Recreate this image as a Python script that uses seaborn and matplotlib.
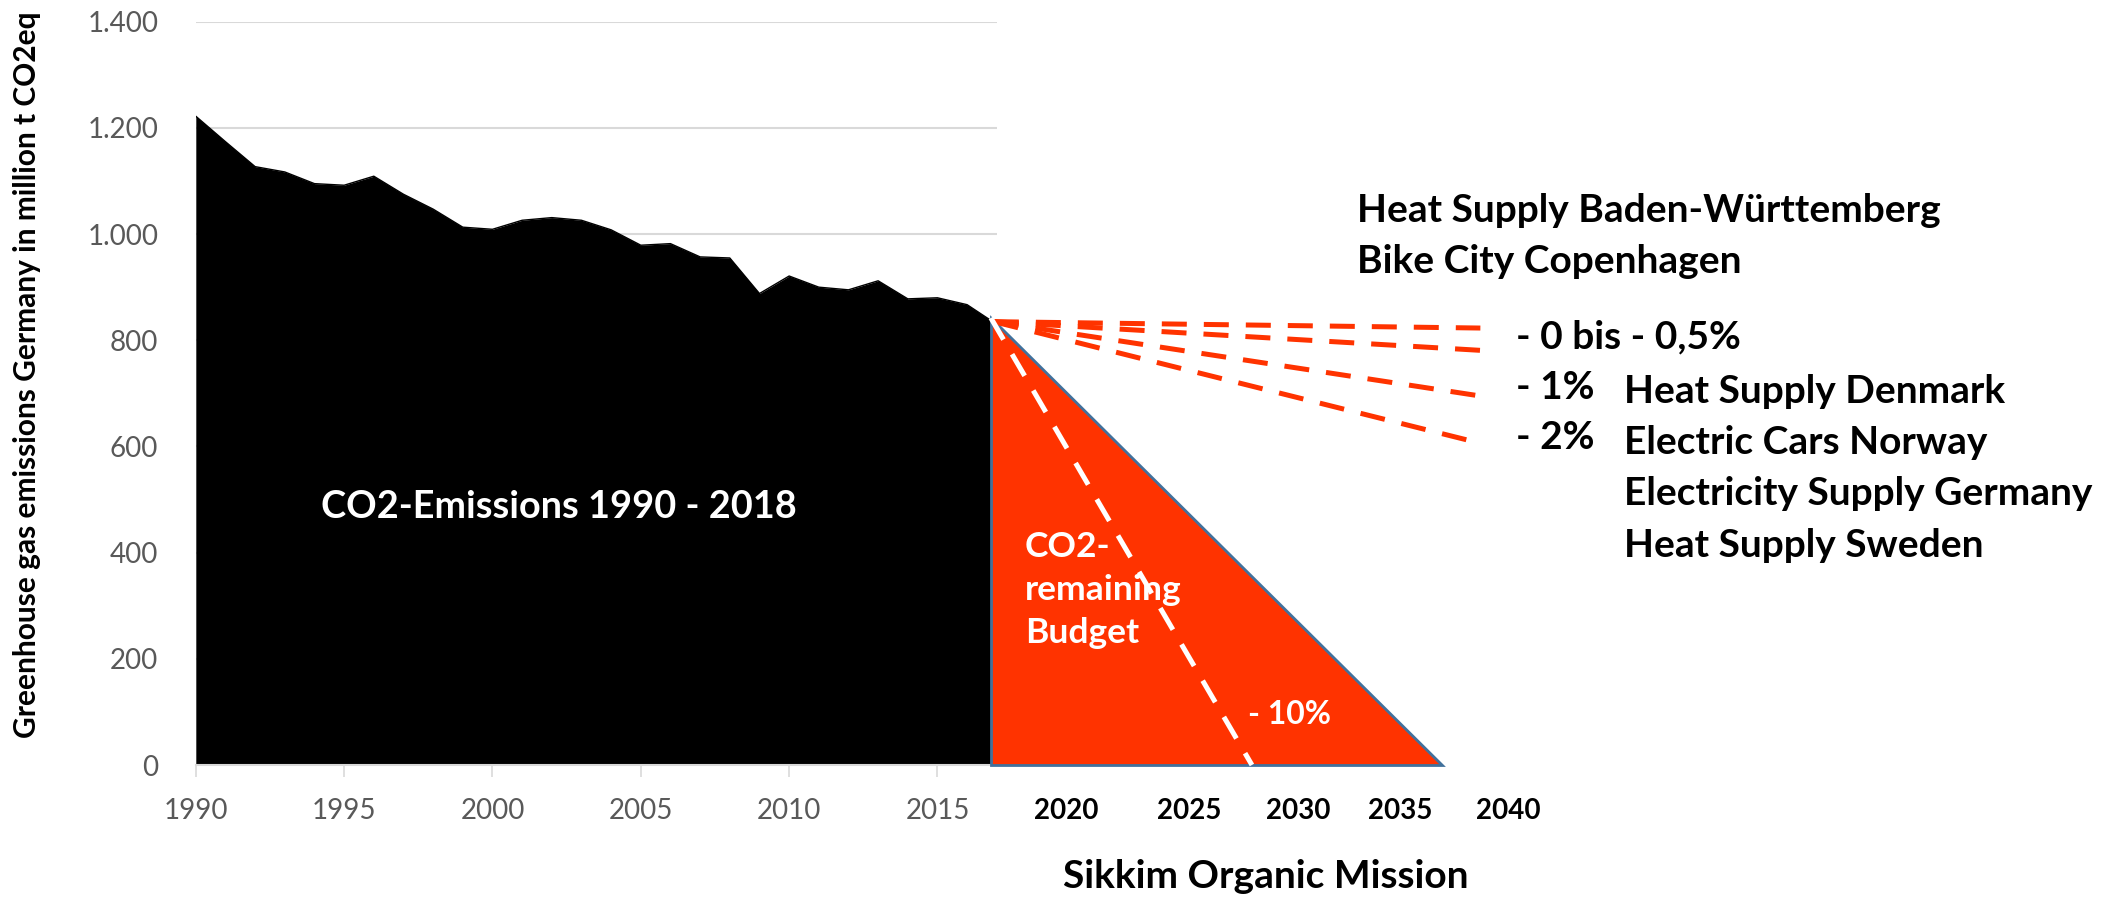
import numpy as np
import pandas as pd
import seaborn as sns
import matplotlib.pyplot as plt

# Emissions Germany 1990 - 2017 (million t CO2eq)
years = list(range(1990, 2018))
emissions = [1222, 1174, 1127, 1117, 1095, 1092, 1109, 1075, 1047, 1013,
             1009, 1026, 1031, 1026, 1008, 979, 982, 957, 955, 888,
             921, 900, 895, 912, 878, 880, 867, 830]

# remaining budget triangle
budget_years = [2016.8, 2016.8, 2032.0]
budget_values = [842, 0, 0]

# reduction paths (- 0 bis - 0,5%, - 1%, - 2%)
path_start = (2016.9, 835)
path_end_year = 2033.3
path_end_values = [823, 781, 695, 606]

# - 10% path
fast_years = [2016.8, 2025.6]
fast_values = [842, 0]

ytick_values = [0, 200, 400, 600, 800, 1000, 1200, 1400]
xtick_values = [1990, 1995, 2000, 2005, 2010, 2015]
future_labels = ['2020', '2025', '2030', '2035', '2040']
rates = ['- 0 bis - 0,5%', '- 1%', '- 2%']
examples_top = ['Heat Supply Baden-Württemberg', 'Bike City Copenhagen']
examples_right = ['Heat Supply Denmark', 'Electric Cars Norway',
                  'Electricity Supply Germany', 'Heat Supply Sweden']

RED = '#FF3300'
W, H = 2108, 899

sns.set_theme(style='white')
plt.rcParams['font.family'] = ['Lato', 'DejaVu Sans']

fig = plt.figure(figsize=(W / 100, H / 100), dpi=100)
ax = fig.add_axes([195.8 / W, 134 / H, 801 / W, 743.3 / H])


def px(x, y):
    return x / W, 1 - y / H


# black area
df = pd.DataFrame({'year': years, 'emissions': emissions})
ax.fill_between(df['year'], df['emissions'], color='black', lw=0, zorder=2)
sns.lineplot(data=df, x='year', y='emissions', color='black', lw=1, ax=ax, zorder=2)

# remaining budget
ax.fill(budget_years, budget_values, facecolor=RED, edgecolor='#41719C',
        lw=2, clip_on=False, zorder=3)

# reduction paths
for v in path_end_values:
    ax.plot([path_start[0], path_end_year], [path_start[1], v], color=RED,
            lw=3.6, dashes=(5, 3.4), clip_on=False, zorder=4)
ax.plot(fast_years, fast_values, color='white', lw=3.6, dashes=(5, 3.4),
        clip_on=False, zorder=4)

ax.set_xlim(1990, 2017)
ax.set_ylim(0, 1400)
ax.set_xticks(xtick_values)
ax.set_yticks(ytick_values)
ax.set_yticklabels([f'{v:,}'.replace(',', '.') for v in ytick_values])
ax.set_xlabel('')
ax.set_ylabel('')
ax.yaxis.grid(True, color='#D9D9D9', lw=1.5)
ax.set_axisbelow(True)
for s in ['left', 'top', 'right']:
    ax.spines[s].set_visible(False)
ax.spines['bottom'].set_color('#D9D9D9')
ax.spines['bottom'].set_linewidth(1.5)
ax.tick_params(axis='x', length=8.6, width=1.2, color='#D9D9D9', pad=15,
               labelsize=20, labelcolor='#595959', bottom=True)
ax.tick_params(axis='y', length=0, pad=27, labelsize=20, labelcolor='#595959')

# texts
fig.text(*px(27, 375), 'Greenhouse gas emissions Germany in million t CO2eq',
         rotation=90, ha='center', va='center', fontsize=21.5, fontweight='bold',
         color='black')
fig.text(*px(559, 518), 'CO2-Emissions 1990 - 2018', ha='center', va='baseline',
         fontsize=27.3, fontweight='bold', color='white', zorder=5)
for i, line in enumerate(['CO2-', 'remaining', 'Budget']):
    fig.text(*px(1025, 557 + 43 * i), line, ha='left', va='baseline',
             fontsize=25.5, fontweight='bold', color='white', zorder=5)
fig.text(*px(1248, 724), '- 10%', ha='left', va='baseline', fontsize=23,
         fontweight='bold', color='white', zorder=5)

for lab, x in zip(future_labels, [1066, 1189, 1298, 1400, 1508]):
    fig.text(*px(x, 819), lab, ha='center', va='baseline', fontsize=20,
             fontweight='bold', color='black')
fig.text(*px(1266, 888), 'Sikkim Organic Mission', ha='center', va='baseline',
         fontsize=28, fontweight='bold', color='black')

for lab, y in zip(examples_top, [222, 273]):
    fig.text(*px(1357, y), lab, ha='left', va='baseline', fontsize=28,
             fontweight='bold', color='black')
for lab, y in zip(rates, [348, 399, 449]):
    fig.text(*px(1516, y), lab, ha='left', va='baseline', fontsize=28,
             fontweight='bold', color='black')
for lab, y in zip(examples_right, [403, 454, 505, 557]):
    fig.text(*px(1624, y), lab, ha='left', va='baseline', fontsize=28,
             fontweight='bold', color='black')

fig.savefig('out.png', dpi=100, facecolor='white')
